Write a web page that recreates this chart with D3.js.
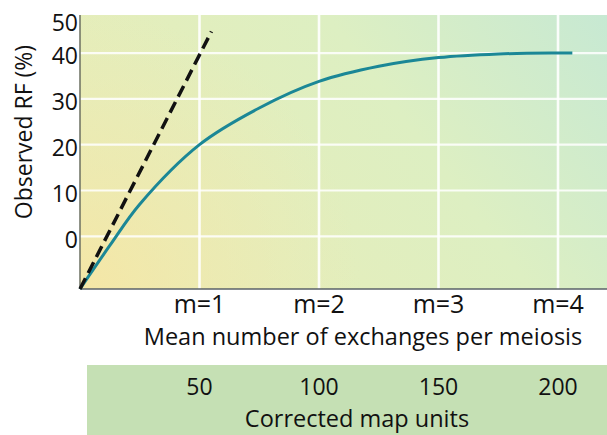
<!DOCTYPE html>
<html>
<head>
<meta charset="utf-8">
<script src="https://cdn.jsdelivr.net/npm/d3@7"></script>
<style>
  html, body { margin: 0; padding: 0; background: #fff; }
  svg { display: block; font-family: "Open Sans", sans-serif; }
</style>
</head>
<body>
<svg width="607" height="435"></svg>
<script>
// Data (y in the figure's own axis units)
const exchanges = [0, 0.25, 0.5, 1, 1.5, 2, 2.5, 3, 3.5, 4, 4.12];
const observedRF = [-11.5, -2, 7, 20, 28, 33.8, 37.1, 39, 39.8, 40, 40];
const noInterfX = [0, 1.1];
const noInterfY = [-11.5, 44.7];
const yTicks = [0, 10, 20, 30, 40, 50];
const exchangeTicks = [1, 2, 3, 4];
const mapUnitTicks = [50, 100, 150, 200];

const svg = d3.select('svg');

const LEFT = 80, RIGHT = 607, TOP = 15, BOTTOM = 289;

const xScale = d3.scaleLinear().domain([0, 4.41]).range([LEFT, RIGHT]);
const yScale = d3.scaleLinear().domain([-11.5, 48.3]).range([BOTTOM, TOP]);
const mapScale = d3.scaleLinear().domain([0, 220.5]).range([LEFT, RIGHT]);

// Background: diagonal base plus warm glow bottom-left
const defs = svg.append('defs');
const base = defs.append('linearGradient')
    .attr('id', 'bgBase')
    .attr('gradientUnits', 'userSpaceOnUse')
    .attr('x1', LEFT).attr('y1', BOTTOM)
    .attr('x2', RIGHT).attr('y2', TOP - 120);
base.append('stop').attr('offset', '0%').attr('stop-color', '#ebecb4');
base.append('stop').attr('offset', '55%').attr('stop-color', '#ddefc2');
base.append('stop').attr('offset', '100%').attr('stop-color', '#c0e7d8');

const glow = defs.append('radialGradient')
    .attr('id', 'bgGlow')
    .attr('gradientUnits', 'userSpaceOnUse')
    .attr('cx', LEFT).attr('cy', BOTTOM).attr('r', 280);
glow.append('stop').attr('offset', '0%').attr('stop-color', '#f6e6a4').attr('stop-opacity', 0.9);
glow.append('stop').attr('offset', '60%').attr('stop-color', '#f0e8ae').attr('stop-opacity', 0.4);
glow.append('stop').attr('offset', '100%').attr('stop-color', '#eeeab4').attr('stop-opacity', 0);

const plotBg = svg.append('g').attr('id', 'plotBg');
['url(#bgBase)', 'url(#bgGlow)'].forEach(fill => plotBg.append('rect')
    .attr('x', LEFT).attr('y', TOP)
    .attr('width', RIGHT - LEFT).attr('height', BOTTOM - TOP)
    .style('fill', fill));

// Grid
svg.append('g').attr('id', 'hgrid')
    .selectAll('line')
    .data(yTicks.filter(d => d < 50))
    .join('line')
    .attr('x1', LEFT).attr('x2', RIGHT)
    .attr('y1', d => yScale(d)).attr('y2', d => yScale(d))
    .style('stroke', '#ffffff')
    .style('stroke-opacity', 0.85)
    .style('stroke-width', 2.2);

svg.append('g').attr('id', 'vgrid')
    .selectAll('line')
    .data(exchangeTicks)
    .join('line')
    .attr('x1', d => xScale(d)).attr('x2', d => xScale(d))
    .attr('y1', TOP).attr('y2', BOTTOM)
    .style('stroke', '#ffffff')
    .style('stroke-opacity', 0.9)
    .style('stroke-width', 2.6);

// Axis lines
svg.append('line')
    .attr('x1', LEFT).attr('x2', LEFT).attr('y1', TOP).attr('y2', BOTTOM)
    .style('stroke', '#6b6f60').style('stroke-width', 1.5);
svg.append('line')
    .attr('x1', LEFT).attr('x2', RIGHT).attr('y1', BOTTOM).attr('y2', BOTTOM)
    .style('stroke', '#5a6268').style('stroke-width', 1.5);

// Y tick labels
svg.append('g').attr('id', 'yLabels')
    .selectAll('text')
    .data(yTicks)
    .join('text')
    .attr('x', LEFT - 2)
    .attr('y', d => Math.max(yScale(d) + 3, TOP + 8))
    .attr('dy', '0.36em')
    .style('text-anchor', 'end')
    .style('font-size', '23px')
    .style('fill', '#111')
    .text(d => d);

svg.append('text')
    .attr('transform', 'translate(32,132) rotate(-90)')
    .style('text-anchor', 'middle')
    .style('font-size', '23px')
    .style('fill', '#111')
    .text('Observed RF (%)');

// Lines
const curve = exchanges.map((m, i) => ({ m, v: observedRF[i] }));
const dashed = noInterfX.map((m, i) => ({ m, v: noInterfY[i] }));

svg.append('path')
    .datum(curve)
    .attr('d', d3.line().x(d => xScale(d.m)).y(d => yScale(d.v)).curve(d3.curveCatmullRom.alpha(0.5)))
    .style('fill', 'none')
    .style('stroke', '#1b8796')
    .style('stroke-width', 3);

svg.append('path')
    .datum(dashed)
    .attr('d', d3.line().x(d => xScale(d.m)).y(d => yScale(d.v)))
    .style('fill', 'none')
    .style('stroke', '#111')
    .style('stroke-width', 3.5)
    .style('stroke-dasharray', '12 6');

// X labels
svg.append('g').attr('id', 'xLabels')
    .selectAll('text')
    .data(exchangeTicks)
    .join('text')
    .attr('x', d => xScale(d))
    .attr('y', 313)
    .style('text-anchor', 'middle')
    .style('font-size', '25px')
    .style('fill', '#111')
    .text(d => `m=${d}`);

svg.append('text')
    .attr('x', 363).attr('y', 345)
    .style('text-anchor', 'middle')
    .style('font-size', '23.5px')
    .style('fill', '#111')
    .text('Mean number of exchanges per meiosis');

// Corrected map units band
svg.append('rect')
    .attr('x', 87).attr('y', 365)
    .attr('width', RIGHT - 87).attr('height', 435 - 365)
    .style('fill', '#c5e0b4');

svg.append('g').attr('id', 'mapLabels')
    .selectAll('text')
    .data(mapUnitTicks)
    .join('text')
    .attr('x', d => mapScale(d))
    .attr('y', 395)
    .style('text-anchor', 'middle')
    .style('font-size', '23px')
    .style('fill', '#111')
    .text(d => d);

svg.append('text')
    .attr('x', 357).attr('y', 427)
    .style('text-anchor', 'middle')
    .style('font-size', '23.5px')
    .style('fill', '#111')
    .text('Corrected map units');
</script>
</body>
</html>
